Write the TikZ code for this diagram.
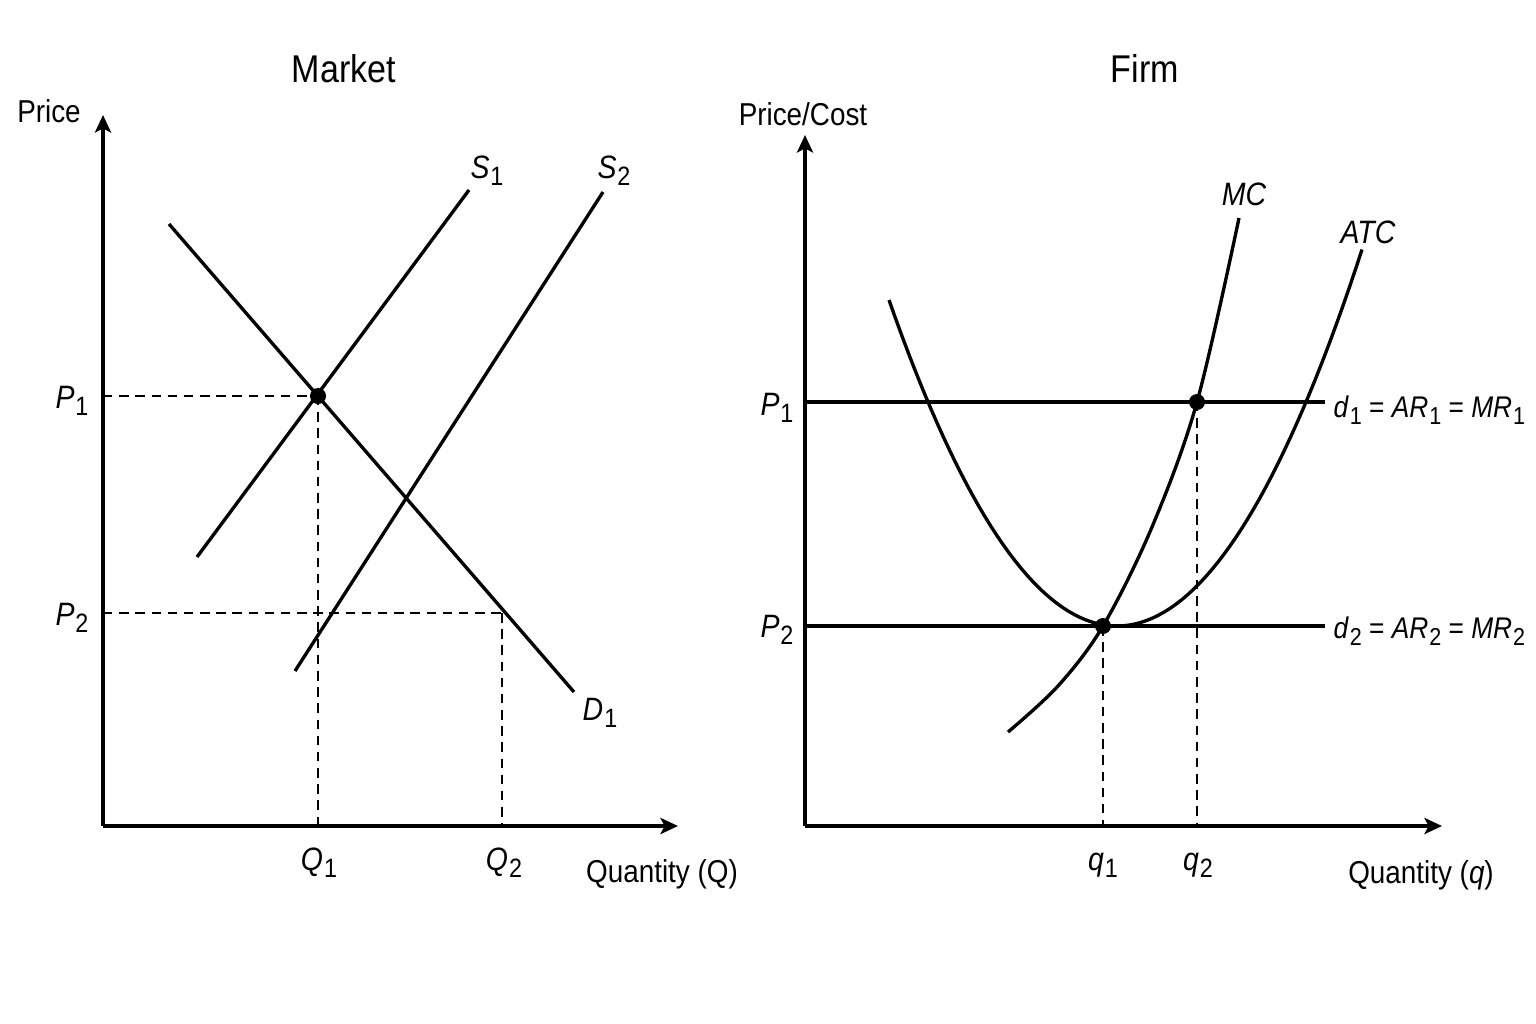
\documentclass[tikz,border=0pt]{standalone}
\usepackage{fontspec}
\setmainfont{Liberation Sans}[FakeStretch=0.88]
\usetikzlibrary{arrows.meta}
\newcommand{\lbl}[2]{\textit{#1}\kern0.03em\raisebox{-0.45ex}{\scalebox{0.82}{#2}}}
\tikzset{
  axisline/.style={line width=1pt,-{Stealth[length=5pt,width=4.6pt,inset=1.2pt]}},
  curve/.style={line width=0.95pt},
  guide/.style={line width=0.75pt,dash pattern=on 2.7pt off 1.9pt},
  dot/.style={circle,fill=black,inner sep=0pt,minimum size=0.16cm},
  title/.style={font=\fontsize{11pt}{13pt}\selectfont,anchor=base,inner sep=0pt},
  axlab/.style={font=\fontsize{9pt}{11pt}\selectfont,anchor=base,inner sep=0pt},
  clab/.style={font=\fontsize{9.2pt}{11pt}\selectfont,anchor=base,inner sep=0pt},
  dlab/.style={font=\fontsize{8.5pt}{10pt}\selectfont,anchor=base west,inner sep=0pt},
}
\begin{document}
\begin{tikzpicture}[x=0.01cm,y=-0.01cm]
\useasboundingbox (0,0) rectangle (1536,1024);
% ---------------- Market ----------------
\coordinate (O1) at (103,826);
\coordinate (Y1) at (103,115);
\coordinate (X1) at (678,826);
\draw[axisline] (O1) -- (Y1);
\draw[axisline] (O1) -- (X1);
\coordinate (s1a) at (197,557); \coordinate (s1b) at (469,190);
\coordinate (s2a) at (295,671); \coordinate (s2b) at (603,192);
\coordinate (da) at (169,224);  \coordinate (db) at (574,692);
\coordinate (p1ax) at (103,396); \coordinate (p2ax) at (103,613);
\coordinate (q1ax) at (318,826); \coordinate (q2ax) at (502,826);
\coordinate (E2) at (502,613);
\draw[guide] (p1ax) -- (318,396);
\draw[guide] (p2ax) -- (E2);
\draw[guide] (318,396) -- (q1ax);
\draw[guide] (E2) -- (q2ax);
\draw[curve] (s1a) -- (s1b);
\draw[curve] (s2a) -- (s2b);
\draw[curve] (da) -- (db);
\node[dot] (E1) at (318,396) {};
\node[title] (mkt) at (344,82) {Market};
\node[axlab] (price) at (49,122) {Price};
\node[axlab] (qQ) at (662,882) {Quantity (Q)};
\node[clab] (S1lab) at (487,178) {\lbl{S}{1}};
\node[clab] (S2lab) at (614,178) {\lbl{S}{2}};
\node[clab] (D1lab) at (600,720) {\lbl{D}{1}};
\node[clab] (P1l) at (72,408) {\lbl{P}{1}};
\node[clab] (P2l) at (72,625) {\lbl{P}{2}};
\node[clab] (Q1l) at (319,870) {\lbl{Q}{1}};
\node[clab] (Q2l) at (504,870) {\lbl{Q}{2}};
% ---------------- Firm ----------------
\coordinate (O2) at (805,826);
\coordinate (Y2) at (805,135);
\coordinate (X2) at (1442,826);
\draw[axisline] (O2) -- (Y2);
\draw[axisline] (O2) -- (X2);
\coordinate (fp1) at (805,402); \coordinate (fp1e) at (1325,402);
\coordinate (fp2) at (805,626); \coordinate (fp2e) at (1325,626);
\draw[curve] (fp1) -- (fp1e);
\draw[curve] (fp2) -- (fp2e);
\coordinate (fq1) at (1103,826); \coordinate (fq2) at (1197,826);
\draw[guide] (1103,626) -- (fq1);
\draw[guide] (1197,402) -- (fq2);
% ATC
\draw[curve] plot[domain=889:1362,samples=80] (\x,{626-(0.0792*(\x-1117))^2});
% MC
\draw[curve] plot[smooth,tension=0.55] coordinates {(1008,732) (1058,686) (1103,626) (1152,527) (1197,402) (1239,218)};
\node[dot] (F1) at (1103,626) {};
\node[dot] (F2) at (1197,402) {};
\node[title] (firm) at (1145,82) {Firm};
\node[axlab] (pc) at (803,125) {Price/Cost};
\node[axlab] (qq) at (1421,883) {Quantity (\textit{q})};
\node[clab] (MClab) at (1244,205) {\textit{MC}};
\node[clab] (ATClab) at (1368,243) {\textit{ATC}};
\node[clab] (fP1l) at (777,415) {\lbl{P}{1}};
\node[clab] (fP2l) at (777,637) {\lbl{P}{2}};
\node[clab] (q1l) at (1103,870) {\lbl{q}{1}};
\node[clab] (q2l) at (1198,870) {\lbl{q}{2}};
\node[dlab] (d1lab) at (1333,417) {\lbl{d}{1} = \lbl{AR}{1} = \lbl{MR}{1}};
\node[dlab] (d2lab) at (1333,638) {\lbl{d}{2} = \lbl{AR}{2} = \lbl{MR}{2}};
\end{tikzpicture}
\end{document}
